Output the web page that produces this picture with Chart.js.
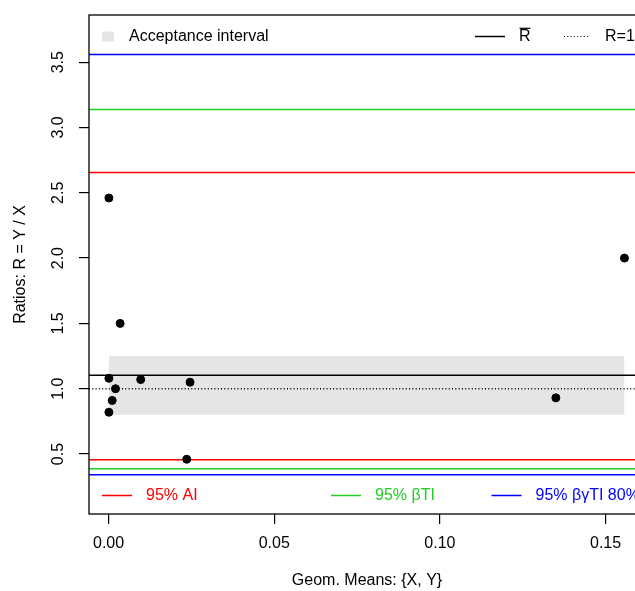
<!DOCTYPE html>
<html>
<head>
<meta charset="utf-8">
<script src="https://cdn.jsdelivr.net/npm/chart.js@4/dist/chart.umd.min.js"></script>
<style>
  html, body { margin: 0; padding: 0; background: #fff; overflow: hidden; }
  #wrap { width: 700px; height: 591px; }
</style>
</head>
<body>
<div id="wrap"><canvas id="ratioChart" width="700" height="591"></canvas></div>
<script>
// geometric means (x) and ratios R = Y / X (y)
const geomMeans = [0.0001, 0.0035, 0.0001, 0.0097, 0.0246, 0.0021, 0.0011, 0.0001, 0.0236, 0.1350, 0.1557];
const ratios    = [2.46,   1.50,   1.08,   1.07,   1.05,   1.00,   0.91,   0.82,   0.46,   0.93,   2.00];

// acceptance interval band
const bandX = [0.0001, 0.1557];
const bandLow = 0.80;
const bandHigh = 1.25;

// reference lines
const rBar = 1.103;
const rOne = 1.0;
const aiLimits = [0.456, 2.656];     // 95% AI
const btiLimits = [0.387, 3.138];    // 95% beta TI
const bgtiLimits = [0.341, 3.558];   // 95% beta-gamma TI

// axes
const xRange = [-0.0059, 0.1619];
const yRange = [0.041, 3.861];
const xTicks = [0, 0.05, 0.10, 0.15];
const yTicks = [0.5, 1.0, 1.5, 2.0, 2.5, 3.0, 3.5];

const RED = '#ff0000';
const GREEN = '#22cc22';
const BLUE = '#0000ff';
const FONT = '16px "Liberation Sans", Arial, Helvetica, sans-serif';

Chart.defaults.font.family = '"Liberation Sans", Arial, Helvetica, sans-serif';
Chart.defaults.font.size = 16;
Chart.defaults.color = '#000';

function hline(y, color, width, dash, order) {
    return {
        type: 'line',
        data: [{ x: xRange[0], y: y }, { x: xRange[1], y: y }],
        borderColor: color,
        borderWidth: width,
        borderDash: dash || [],
        pointRadius: 0,
        fill: false,
        order: order
    };
}

// frame, rotated y labels, axis titles and the two in-plot legends
const decor = {
    id: 'decor',
    afterDraw(chart) {
        const ctx = chart.ctx;
        const a = chart.chartArea;
        const ys = chart.scales.y;
        ctx.save();

        ctx.strokeStyle = '#000';
        ctx.lineWidth = 1.3;
        ctx.strokeRect(a.left, a.top, a.right - a.left, a.bottom - a.top);

        ctx.font = FONT;
        ctx.fillStyle = '#000';
        ctx.textAlign = 'center';
        ctx.textBaseline = 'middle';
        yTicks.forEach(v => {
            ctx.save();
            ctx.translate(59, ys.getPixelForValue(v));
            ctx.rotate(-Math.PI / 2);
            ctx.fillText(v.toFixed(1), 0, 0);
            ctx.restore();
        });

        ctx.save();
        ctx.translate(21, (a.top + a.bottom) / 2);
        ctx.rotate(-Math.PI / 2);
        ctx.fillText('Ratios: R = Y / X', 0, 0);
        ctx.restore();

        ctx.fillText('Geom. Means: {X, Y}', (a.left + a.right) / 2, 581);

        // top legend
        const ty = 36.5;
        ctx.textAlign = 'left';
        ctx.fillStyle = '#e5e5e5';
        ctx.fillRect(102, 31.5, 12, 10);
        ctx.fillStyle = '#000';
        ctx.fillText('Acceptance interval', 129, ty);

        ctx.lineWidth = 1.5;
        ctx.beginPath();
        ctx.moveTo(475, ty); ctx.lineTo(505, ty);
        ctx.stroke();
        ctx.fillText('R', 519, ty);
        ctx.lineWidth = 1.2;
        ctx.beginPath();
        ctx.moveTo(519.5, 28.3); ctx.lineTo(530.5, 28.3);
        ctx.stroke();

        ctx.setLineDash([1, 2.3]);
        ctx.beginPath();
        ctx.moveTo(564, ty); ctx.lineTo(590, ty);
        ctx.stroke();
        ctx.setLineDash([]);
        ctx.fillText('R=1', 605, ty);

        // bottom legend
        const by = 495.5;
        [[102, RED, '95% AI'], [331, GREEN, '95% \u03b2TI'], [491.5, BLUE, '95% \u03b2\u03b3TI 80%']].forEach(([x, c, t]) => {
            ctx.strokeStyle = c;
            ctx.fillStyle = c;
            ctx.lineWidth = 1.5;
            ctx.beginPath();
            ctx.moveTo(x, by); ctx.lineTo(x + 30, by);
            ctx.stroke();
            ctx.fillText(t, x + 44, by);
        });

        ctx.restore();
    }
};

new Chart(document.getElementById('ratioChart').getContext('2d'), {
    type: 'scatter',
    data: {
        datasets: [
            {
                type: 'scatter',
                data: geomMeans.map((x, i) => ({ x: x, y: ratios[i] })),
                backgroundColor: '#000',
                borderColor: '#000',
                pointRadius: 4,
                order: 0
            },
            hline(rBar, '#000', 1.3, null, 1),
            hline(rOne, '#000', 1.3, [1, 2.3], 1),
            hline(aiLimits[0], RED, 1.5, null, 2),
            hline(aiLimits[1], RED, 1.5, null, 2),
            hline(btiLimits[0], GREEN, 1.5, null, 2),
            hline(btiLimits[1], GREEN, 1.5, null, 2),
            hline(bgtiLimits[0], BLUE, 1.5, null, 2),
            hline(bgtiLimits[1], BLUE, 1.5, null, 2),
            {
                type: 'line',
                data: [{ x: bandX[0], y: bandHigh }, { x: bandX[1], y: bandHigh }],
                borderWidth: 0,
                borderColor: 'rgba(0,0,0,0)',
                backgroundColor: '#e5e5e5',
                pointRadius: 0,
                fill: { value: bandLow },
                order: 5
            }
        ]
    },
    options: {
        responsive: false,
        animation: false,
        layout: { padding: { top: 15, right: 55, left: 0, bottom: 0 } },
        plugins: { legend: { display: false }, tooltip: { enabled: false } },
        scales: {
            x: {
                type: 'linear',
                min: xRange[0],
                max: xRange[1],
                afterBuildTicks: s => { s.ticks = xTicks.map(v => ({ value: v })); },
                afterFit: s => { s.height = 77; },
                ticks: { padding: 10, callback: v => v.toFixed(2), color: '#000' },
                grid: { drawOnChartArea: false, drawTicks: true, tickLength: 10, color: '#000', lineWidth: 1.2 },
                border: { display: false }
            },
            y: {
                type: 'linear',
                min: yRange[0],
                max: yRange[1],
                afterBuildTicks: s => { s.ticks = yTicks.map(v => ({ value: v })); },
                afterFit: s => { s.width = 89; },
                ticks: { display: false },
                grid: { drawOnChartArea: false, drawTicks: true, tickLength: 10, color: '#000', lineWidth: 1.2 },
                border: { display: false }
            }
        }
    },
    plugins: [decor]
});
</script>
</body>
</html>
